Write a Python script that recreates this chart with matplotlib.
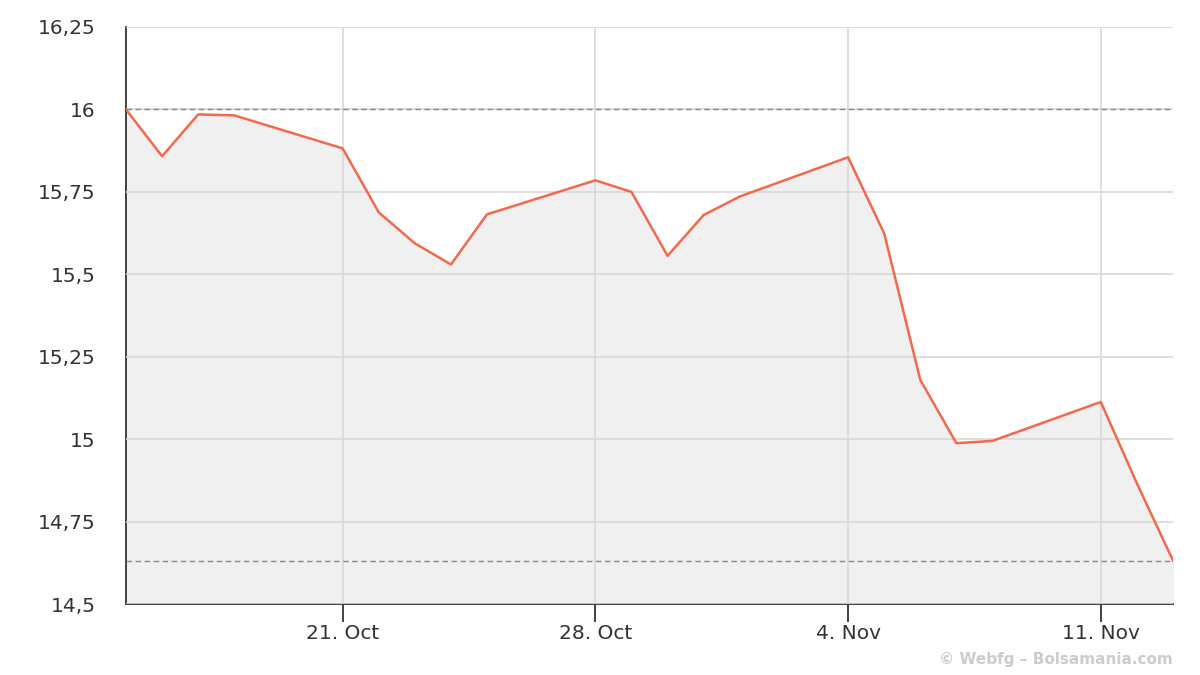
import matplotlib
matplotlib.use("Agg")
import matplotlib.pyplot as plt
import matplotlib.ticker as mticker
import datetime as dt

dates = ["2024-10-15", "2024-10-16", "2024-10-17", "2024-10-18", "2024-10-21",
         "2024-10-22", "2024-10-23", "2024-10-24", "2024-10-25", "2024-10-28",
         "2024-10-29", "2024-10-30", "2024-10-31", "2024-11-01", "2024-11-04",
         "2024-11-05", "2024-11-06", "2024-11-07", "2024-11-08", "2024-11-11",
         "2024-11-12", "2024-11-13"]
prices = [16.00, 15.858, 15.985, 15.982, 15.882,
          15.688, 15.594, 15.53, 15.682, 15.785,
          15.75, 15.556, 15.68, 15.736, 15.855,
          15.624, 15.18, 14.988, 14.995, 15.113,
          14.866, 14.632]
y_ticks = [14.5, 14.75, 15.0, 15.25, 15.5, 15.75, 16.0, 16.25]
x_ticks = ["2024-10-21", "2024-10-28", "2024-11-04", "2024-11-11"]
x_tick_labels = ["21. Oct", "28. Oct", "4. Nov", "11. Nov"]

x = [dt.datetime.strptime(d, "%Y-%m-%d") for d in dates]
xt = [dt.datetime.strptime(d, "%Y-%m-%d") for d in x_ticks]

fig = plt.figure(figsize=(12, 6.75), dpi=100)
ax = fig.add_axes([0.105, 0.105, 0.8725, 0.855])

ymin = 14.5
ax.fill_between(x, prices, ymin, color="#f0f0f0", zorder=1)
ax.plot(x, prices, color="#f26a4b", lw=1.8, zorder=4)

ax.axhline(max(prices), color="#888888", lw=1, ls=(0, (4, 2.5)), zorder=3)
ax.axhline(min(prices), color="#888888", lw=1, ls=(0, (4, 2.5)), zorder=3)

ax.set_xlim(x[0], x[-1])
ax.set_ylim(14.5, 16.25)
ax.set_yticks(y_ticks)
ax.yaxis.set_major_formatter(mticker.FuncFormatter(
    lambda v, p: ("%g" % v).replace(".", ",")))
ax.set_xticks(xt)
ax.set_xticklabels(x_tick_labels)

ax.grid(True, color="#d8d8d8", lw=1.2, zorder=2)
ax.set_axisbelow(False)
for s in ["top", "right"]:
    ax.spines[s].set_visible(False)
ax.spines["left"].set_color("#333333")
ax.spines["bottom"].set_color("#333333")
ax.spines["left"].set_linewidth(1.3)
ax.spines["bottom"].set_linewidth(1.3)
ax.tick_params(axis="y", length=0, pad=22, labelsize=14.5, labelcolor="#333333")
ax.tick_params(axis="x", length=13, width=1.3, color="#333333", pad=1.5,
               labelsize=14.5, labelcolor="#333333")

fig.text(0.977, 0.012, "© Webfg – Bolsamania.com", ha="right", va="bottom",
         fontsize=11, color="#cccccc", fontweight="bold")

fig.savefig("out.png", dpi=100)
